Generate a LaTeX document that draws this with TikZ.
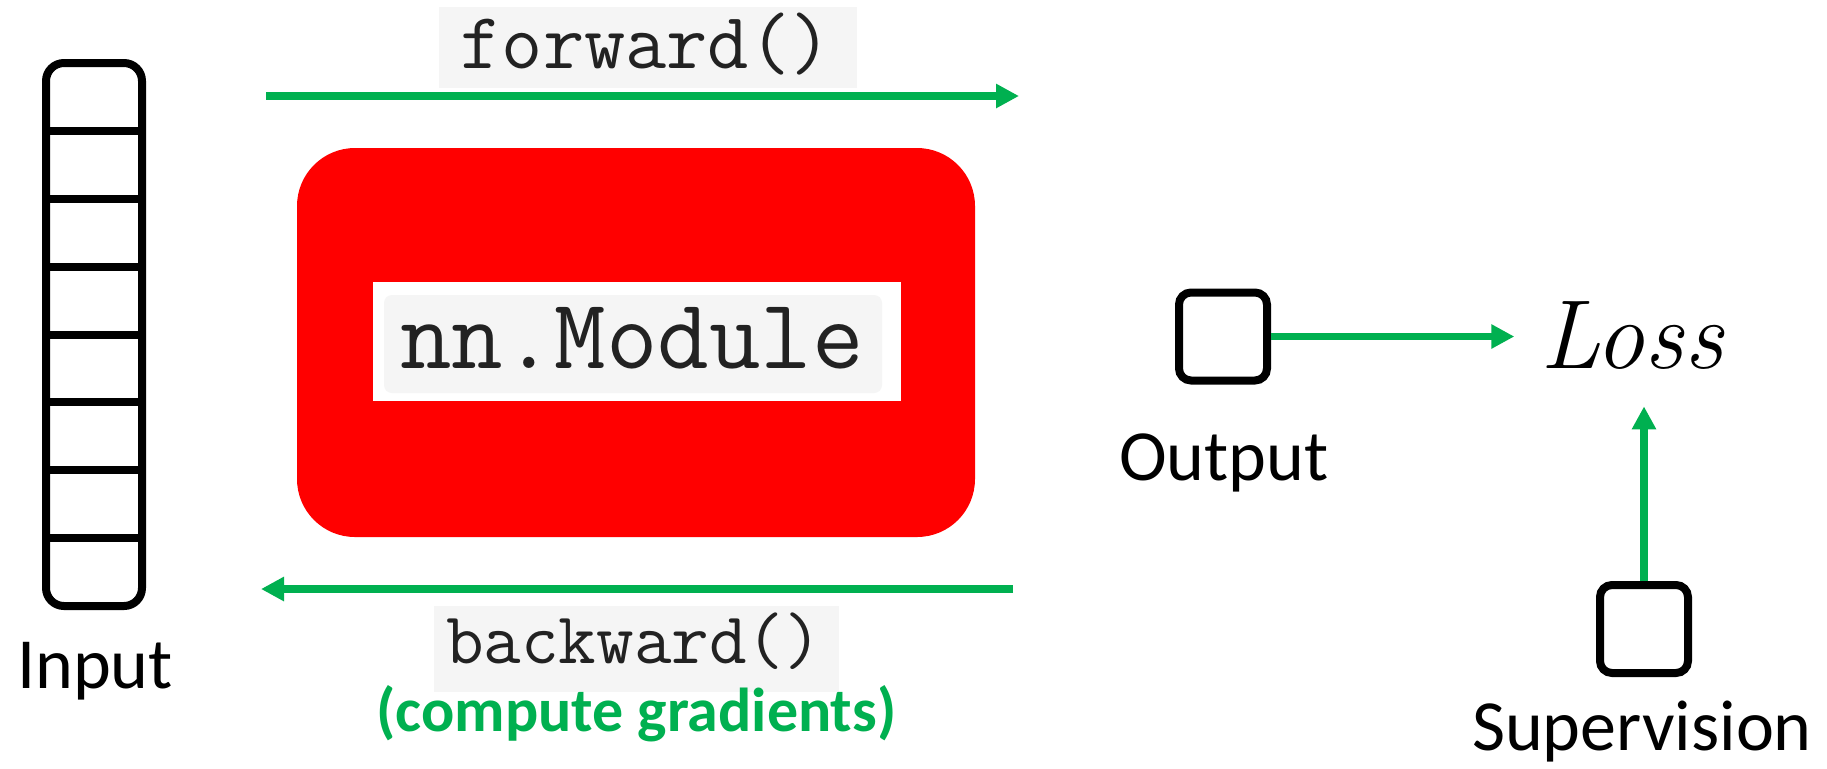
\documentclass[tikz,border=0pt]{standalone}
\usepackage{fontspec}
\usetikzlibrary{arrows.meta,calc}
\newfontfamily\labelfont{Carlito}
\definecolor{arrgreen}{HTML}{00B050}
\definecolor{codebg}{HTML}{F5F5F5}
\definecolor{codetxt}{HTML}{222222}
\begin{document}
\begin{tikzpicture}[x=0.5pt,y=-0.5pt,
  arr/.style={draw=arrgreen,line width=3.75pt,-{Triangle[length=11.5pt,width=11.5pt]}},
  smallbox/.style={draw,line width=4pt,rounded corners=6pt,minimum width=44pt,minimum height=44pt,inner sep=0pt},
  lbl/.style={font={\labelfont\fontsize{36}{40}\selectfont},inner sep=0pt,anchor=base},
  codebgbox/.style={fill=codebg,inner sep=0pt},
  code/.style={text=codetxt,inner sep=0pt,anchor=base}]
\useasboundingbox[fill=white] (0,0) rectangle (1827,768);

% input column
\node (col) [draw,line width=4pt,rounded corners=9pt,minimum width=48pt,minimum height=271.5pt,outer sep=0pt,inner sep=0pt] at (94,334.5) {};
\foreach \k in {1,...,7}
  \draw[line width=4pt] ($(col.north west)!\k/8!(col.south west)$) -- ($(col.north east)!\k/8!(col.south east)$);
\node (inlbl) [lbl] at (95,688) {Input};

% module
\node (module) [fill=red,rounded corners=29pt,minimum width=339pt,minimum height=194.5pt,inner sep=0pt] at (636,342.5) {};
\node (modwhite) [fill=white,minimum width=264pt,minimum height=59.5pt,inner sep=0pt] at (637,341.5) {};
\node (modgray) [codebgbox,rounded corners=4pt,minimum width=249pt,minimum height=49pt] at (633,344) {};
\node (modtxt) [code,font={\ttfamily\fontsize{50}{54}\selectfont}] at (632,368) {nn.Module};

% forward
\node (fwdbg) [codebgbox,minimum width=209pt,minimum height=40.5pt] at (648,47.5) {};
\node (fwdtxt) [code,font={\ttfamily\fontsize{40}{44}\selectfont}] at (646,68) {forward()};
\coordinate (fwdS) at (266,96);
\coordinate (fwdE) at (1019,96);
\draw[arr] (fwdS) -- (fwdE);

% backward
\coordinate (bwdS) at (1013,589);
\coordinate (bwdE) at (261,589);
\draw[arr] (bwdS) -- (bwdE);
\node (bwdbg) [codebgbox,minimum width=202.5pt,minimum height=43pt] at (636.5,649) {};
\node (bwdtxt) [code,font={\ttfamily\fontsize{36.5}{40}\selectfont}] at (634,663) {backward()};
\node (grad) [anchor=base,inner sep=0pt,text=arrgreen,font={\labelfont\bfseries\fontsize{31}{36}\selectfont}] at (636.5,731) {(compute gradients)};

% output / loss / supervision
\node (outbox) [smallbox] at (1223,336.5) {};
\node (outlbl) [lbl] at (1224,480) {Output};
\node (loss) [anchor=base,inner sep=0pt,font={\itshape\fontsize{49}{54}\selectfont}] at (1632,368) {Loss};
\node (supbox) [smallbox] at (1644,629) {};
\node (suplbl) [lbl] at (1642,750) {Supervision};

\draw[arr,shorten >=13pt] (outbox.east) -- (outbox.east -| loss.west);
\draw[arr,shorten >=18.5pt] (supbox.north) -- (supbox.north |- loss.south);
\end{tikzpicture}
\end{document}
